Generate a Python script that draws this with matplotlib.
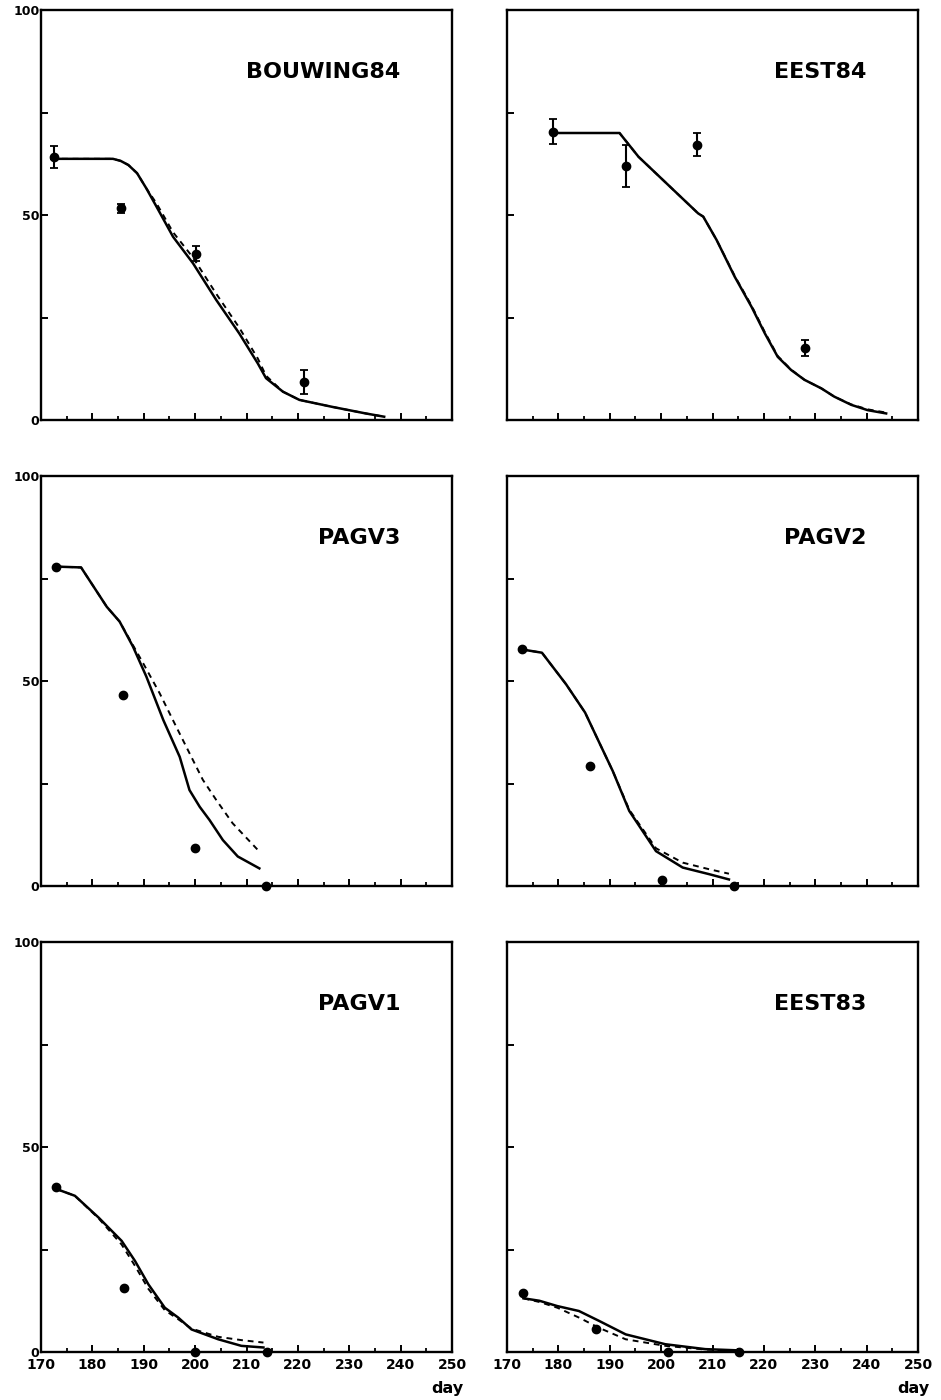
import matplotlib
matplotlib.use('Agg')
import matplotlib.pyplot as plt
from matplotlib.ticker import MultipleLocator

plt.rcParams['font.family'] = ['DejaVu Sans']
plt.rcParams['font.weight'] = 'bold'

#Observed values (day, value, error) and simulated curves for each site.
bouwObsDay = [172.5, 185.5, 200.2, 221.1]
bouwObsVal = [64.2, 51.6, 40.6, 9.2]
bouwObsErr = [2.7, 1.0, 1.9, 2.9]
bouwSimDay = [172, 184, 185.5, 187, 188.7, 190.5, 192.5, 195.7, 199.6, 204.1, 208.6, 212.2, 213.8, 217.1, 220.3, 226.7, 233.2, 236.8]
bouwSimVal = [63.7, 63.7, 63.2, 62.2, 60.2, 56.5, 52.0, 44.7, 38.2, 29.3, 21.1, 13.8, 10.2, 6.9, 4.9, 3.2, 1.6, 0.8]
bouwAltVal = [63.7, 63.7, 63.2, 62.2, 60.2, 56.5, 52.8, 45.8, 39.6, 30.8, 22.5, 15.0, 10.8, 6.9, 4.9, 3.2, 1.6, 0.8]

eest84ObsDay = [179.0, 193.1, 206.9, 228.0]
eest84ObsVal = [70.3, 62.0, 67.1, 17.5]
eest84ObsErr = [3.0, 5.1, 2.8, 1.9]
eest84SimDay = [179, 191.9, 195.6, 201.4, 207.2, 208.2, 210.8, 214.3, 217.6, 220.2, 222.7, 225.3, 227.9, 231.2, 233.7, 237.0, 240.2, 243.8]
eest84SimVal = [70.0, 70.0, 64.2, 57.3, 50.4, 49.6, 43.9, 35.0, 27.6, 21.1, 15.4, 12.2, 9.8, 7.7, 5.7, 3.7, 2.4, 1.6]
eest84AltVal = [70.0, 70.0, 64.2, 57.3, 50.4, 49.6, 43.9, 35.2, 27.9, 21.4, 15.6, 12.3, 9.8, 7.7, 5.7, 3.8, 2.6, 1.8]

pagv3ObsDay = [173.0, 185.9, 199.9, 213.8]
pagv3ObsVal = [77.9, 46.6, 9.3, 0.0]
pagv3SimDay = [173, 177.8, 182.8, 185.3, 187.9, 190.5, 193.8, 197.0, 198.9, 200.9, 202.8, 205.4, 208.3, 212.5]
pagv3SimVal = [77.9, 77.7, 68.1, 64.5, 58.4, 51.1, 40.5, 31.5, 23.4, 19.3, 16.1, 11.2, 7.2, 4.3]
pagv3AltDay = [173, 177.8, 182.8, 185.3, 189.9, 193.1, 196.3, 198.9, 201.5, 204.1, 207.3, 212.2]
pagv3AltVal = [77.9, 77.7, 68.1, 64.5, 54.3, 47.0, 38.9, 32.4, 25.9, 21.0, 15.3, 8.8]

pagv2ObsDay = [172.9, 186.2, 200.1, 214.2]
pagv2ObsVal = [57.7, 29.3, 1.4, 0.0]
pagv2SimDay = [172.9, 176.8, 181.5, 185.2, 187.8, 190.6, 193.8, 196.4, 199.0, 204.2, 209.3, 213.2]
pagv2SimVal = [57.7, 56.9, 49.2, 42.3, 35.4, 28.0, 18.3, 13.4, 8.5, 4.5, 2.9, 1.6]
pagv2AltVal = [57.7, 56.9, 49.2, 42.3, 35.4, 28.0, 18.6, 13.9, 9.2, 5.7, 4.1, 3.0]

pagv1ObsDay = [172.9, 186.1, 200.0, 214.0]
pagv1ObsVal = [40.3, 15.7, 0.0, 0.0]
pagv1SimDay = [172.9, 176.6, 181.2, 185.7, 188.3, 190.9, 194.1, 196.7, 199.3, 204.5, 209.0, 213.3]
pagv1SimVal = [39.8, 38.1, 32.8, 27.1, 22.2, 16.5, 10.8, 8.4, 5.5, 3.1, 1.5, 1.1]
pagv1AltVal = [39.8, 38.1, 32.6, 26.2, 21.0, 15.4, 10.2, 8.0, 5.7, 3.7, 2.9, 2.3]

eest83ObsDay = [173.2, 187.3, 201.3, 215.1]
eest83ObsVal = [14.3, 5.7, 0.0, 0.0]
eest83SimDay = [173.2, 176.3, 179.8, 184.0, 187.9, 193.1, 200.8, 208.6, 215.0]
eest83SimVal = [13.1, 12.5, 11.2, 10.0, 7.6, 4.3, 1.9, 0.7, 0.4]
eest83AltVal = [13.1, 12.2, 10.8, 8.4, 5.9, 3.1, 1.5, 0.6, 0.3]

names = ['BOUWING84', 'EEST84', 'PAGV3', 'PAGV2', 'PAGV1', 'EEST83']
obsDays = [bouwObsDay, eest84ObsDay, pagv3ObsDay, pagv2ObsDay, pagv1ObsDay, eest83ObsDay]
obsVals = [bouwObsVal, eest84ObsVal, pagv3ObsVal, pagv2ObsVal, pagv1ObsVal, eest83ObsVal]
obsErrs = [bouwObsErr, eest84ObsErr, None, None, None, None]
simDays = [bouwSimDay, eest84SimDay, pagv3SimDay, pagv2SimDay, pagv1SimDay, eest83SimDay]
simVals = [bouwSimVal, eest84SimVal, pagv3SimVal, pagv2SimVal, pagv1SimVal, eest83SimVal]
altDays = [bouwSimDay, eest84SimDay, pagv3AltDay, pagv2SimDay, pagv1SimDay, eest83SimDay]
altVals = [bouwAltVal, eest84AltVal, pagv3AltVal, pagv2AltVal, pagv1AltVal, eest83AltVal]

fig = plt.figure(figsize=(9.41, 14.0), dpi=100)

lefts = [41/941, 507/941]
bottoms = [1-420/1400, 1-886/1400, 1-1352/1400]
w = 411/941
h = 410/1400

for i in range(6):
	row, col = i // 2, i % 2
	ax = fig.add_axes([lefts[col], bottoms[row], w, h])
	ax.set_xlim(170, 250)
	ax.set_ylim(0, 100)
	for s in ax.spines.values():
		s.set_linewidth(1.7)

	#Dashed alternative simulation and solid simulation.
	ax.plot(altDays[i], altVals[i], color='black', linestyle=(0, (3, 2.5)), linewidth=1.4, clip_on=False)
	ax.plot(simDays[i], simVals[i], color='black', linewidth=1.8, clip_on=False)
	if obsErrs[i] is not None:
		ax.errorbar(obsDays[i], obsVals[i], yerr=obsErrs[i], fmt='o', color='black', markersize=6,
					elinewidth=1.5, capsize=3, capthick=1.3, clip_on=False, zorder=5)
	else:
		ax.plot(obsDays[i], obsVals[i], 'o', color='black', markersize=6, clip_on=False, zorder=5)

	ax.text(0.874, 0.85, names[i], transform=ax.transAxes, ha='right', va='center',
			fontsize=16, fontweight='bold')

	ax.xaxis.set_major_locator(MultipleLocator(10))
	ax.xaxis.set_minor_locator(MultipleLocator(5))
	ax.set_yticks([0, 25, 50, 75, 100])
	ax.tick_params(axis='both', which='major', direction='in', length=5, width=1.4)
	ax.tick_params(axis='x', which='minor', direction='in', length=3, width=1.3)
	ax.tick_params(axis='x', labelsize=10, pad=4)
	ax.tick_params(axis='y', labelsize=9, pad=1)

	if col == 0:
		ax.set_yticklabels(['0', '', '50', '', '100'])
	else:
		ax.set_yticklabels([])
	if row < 2:
		ax.set_xticklabels([])
	else:
		ax.text(1.027, -0.09, 'day', transform=ax.transAxes, ha='right', va='center',
				fontsize=11.5, fontweight='bold')

	for lab in ax.get_xticklabels() + ax.get_yticklabels():
		lab.set_fontweight('bold')

plt.savefig('out.png', dpi=100)
